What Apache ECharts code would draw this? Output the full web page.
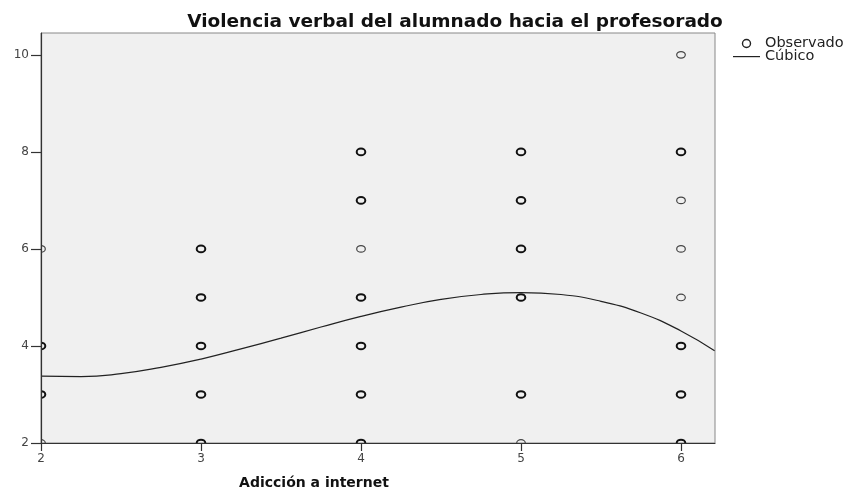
<!DOCTYPE html>
<html><head><meta charset="utf-8">
<script src="https://cdn.jsdelivr.net/npm/echarts@6/dist/echarts.min.js"></script>
<style>html,body{margin:0;padding:0;background:#fff}#c{width:849px;height:489px}</style>
</head><body><div id="c"></div>
<script>
// Observed points drawn with heavier outline (several overlapping cases)
const boldX = [2,2, 3,3,3,3,3, 4,4,4,4,4,4, 5,5,5,5,5, 6,6,6,6];
const boldY = [3,4, 2,3,4,5,6, 2,3,4,5,7,8, 3,5,6,7,8, 2,3,4,8];
// Observed points with a single case (lighter outline)
const lightX = [2,2, 4, 5, 6,6,6,6];
const lightY = [2,6, 6, 2, 5,6,7,10];
// Cubic fit curve
const curveX = [2,2.25,2.5,2.75,3,3.25,3.5,3.75,4,4.25,4.5,4.75,5,5.25,5.5,5.75,6,6.21];
const curveY = [3.38,3.37,3.43,3.56,3.73,3.94,4.16,4.39,4.61,4.80,4.96,5.06,5.10,5.06,4.92,4.68,4.31,3.90];
const xTicks = [2,3,4,5,6];
const yTicks = [2,4,6,8,10];

const zip = (a,b) => a.map((v,i)=>[v,b[i]]);
const font = 'DejaVu Sans, sans-serif';

function ringRenderer(stroke, width) {
  return function (params, api) {
    const p = api.coord([api.value(0), api.value(1)]);
    return {
      type: 'ellipse',
      shape: { cx: p[0], cy: p[1], rx: 4.3, ry: 3.3 },
      style: { fill: null, stroke: stroke, lineWidth: width }
    };
  };
}

const chart = echarts.init(document.getElementById('c'), null, {renderer:'canvas'});
chart.setOption({
  animation:false,
  backgroundColor:'#fff',
  title:[
    {text:'Violencia verbal del alumnado hacia el profesorado', left:450, top:8, textAlign:'center',
     textStyle:{fontFamily:font, fontSize:18.5, fontWeight:'bold', color:'#111'}},
    {text:'Adicción a internet', left:309, top:471, textAlign:'center',
     textStyle:{fontFamily:font, fontSize:14, fontWeight:'bold', color:'#111'}}
  ],
  legend:{
    orient:'vertical', left:733, top:36, itemGap:-2, itemWidth:27, itemHeight:8, padding:0,
    textStyle:{fontFamily:font, fontSize:14.5, lineHeight:12.5, color:'#222'},
    data:[{name:'Observado', icon:'circle', itemStyle:{color:'transparent', borderColor:'#222', borderWidth:1.4}},
          {name:'Cúbico', icon:'path://M0,0 M27,8 M0,3.5 L27,3.5 L27,4.7 L0,4.7 Z', itemStyle:{color:'#222'}}]
  },
  grid:{left:41, right:134, top:33, bottom:46, show:true, backgroundColor:'#f0f0f0', borderColor:'#888', borderWidth:1},
  xAxis:{
    type:'value', min:2, max:6.2125, interval:1, z:5,
    axisLine:{lineStyle:{color:'#333', width:1.2}},
    axisTick:{show:true, length:8, lineStyle:{color:'#333', width:1.2}},
    axisLabel:{fontFamily:font, fontSize:12, color:'#444', margin:10, showMaxLabel:false,
      formatter:v => xTicks.includes(v) ? String(v) : ''},
    splitLine:{show:false}
  },
  yAxis:{
    type:'value', min:2, max:10.45, interval:2, z:5,
    axisLine:{show:true, lineStyle:{color:'#333', width:1.2}},
    axisTick:{show:true, length:10, lineStyle:{color:'#333', width:1.2}},
    axisLabel:{fontFamily:font, fontSize:12, color:'#444', margin:12, showMaxLabel:false,
      formatter:v => yTicks.includes(v) ? String(v) : ''},
    splitLine:{show:false}
  },
  series:[
    {name:'Observado', type:'custom', data:zip(lightX, lightY), clip:true,
     encode:{x:0, y:1}, renderItem:ringRenderer('#444', 1.2),
     itemStyle:{color:'transparent', borderColor:'#444', borderWidth:1.2}},
    {name:'Observado', type:'custom', data:zip(boldX, boldY), clip:true,
     encode:{x:0, y:1}, renderItem:ringRenderer('#111', 2),
     itemStyle:{color:'transparent', borderColor:'#111', borderWidth:2}},
    {name:'Cúbico', type:'line', data:zip(curveX, curveY), smooth:true, showSymbol:false, symbol:'none', clip:true,
     lineStyle:{color:'#222', width:1.2}, itemStyle:{color:'#222'}}
  ]
});
</script></body></html>
